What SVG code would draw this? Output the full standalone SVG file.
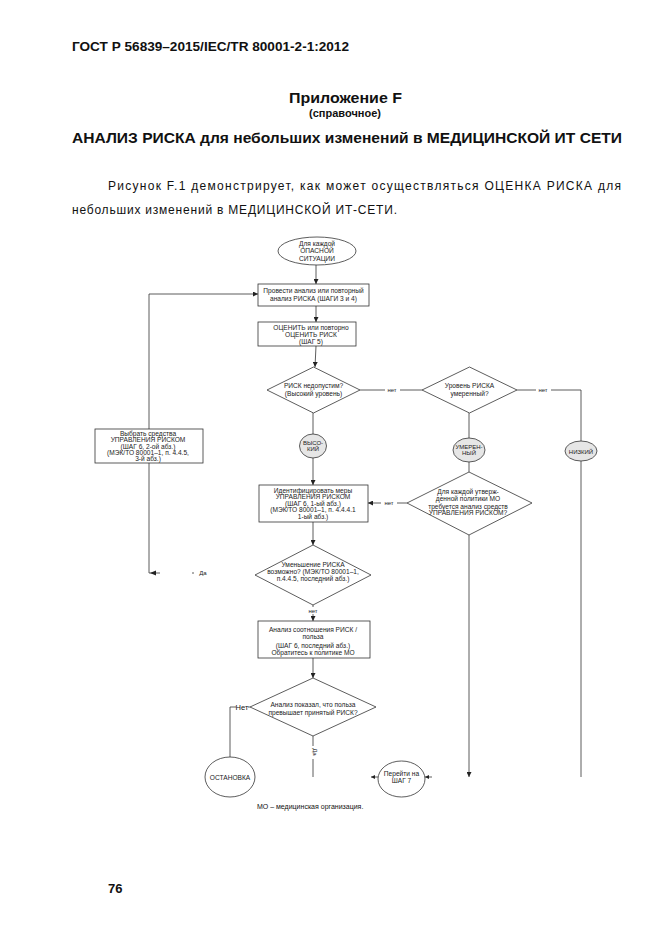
<svg xmlns="http://www.w3.org/2000/svg" width="662" height="936" viewBox="0 0 662 936">
<style>
.pg{font-family:"Liberation Sans",Arial,sans-serif;fill:#111}
.b{font-weight:bold}
.t{font-family:"Liberation Sans",Arial,sans-serif;font-size:6.6px;fill:#222;text-anchor:middle}
.s{font-family:"Liberation Sans",Arial,sans-serif;font-size:6px;fill:#222;text-anchor:middle}
.shape{fill:#fff;stroke:#333;stroke-width:0.8}
.grey{fill:#e6e6e6;stroke:#333;stroke-width:0.8}
.ln{fill:none;stroke:#333;stroke-width:0.8}
</style>
<defs>
<marker id="ah" viewBox="0 0 10 10" refX="10" refY="5" markerWidth="5" markerHeight="5" markerUnits="userSpaceOnUse" orient="auto">
<path d="M0,0 L10,5 L0,10 z" fill="#222"/>
</marker>
</defs>
<rect width="662" height="936" fill="#fff"/>

<g id="page-text">
<text class="pg b" x="72" y="51" font-size="12" textLength="277" lengthAdjust="spacingAndGlyphs">ГОСТ Р 56839–2015/IEC/TR 80001-2-1:2012</text>
<text class="pg" x="345.5" y="103" font-size="15" text-anchor="middle" font-weight="bold" textLength="113" lengthAdjust="spacingAndGlyphs">Приложение F</text>
<text class="pg b" x="345" y="117" font-size="11" text-anchor="middle">(справочное)</text>
<text class="pg b" x="72" y="143" font-size="15" textLength="550" lengthAdjust="spacingAndGlyphs">АНАЛИЗ РИСКА для небольших изменений в МЕДИЦИНСКОЙ ИТ СЕТИ</text>
<text class="pg" x="108" y="190" font-size="12" textLength="513" lengthAdjust="spacing">Рисунок F.1 демонстрирует, как может осуществляться ОЦЕНКА РИСКА для</text>
<text class="pg" x="72" y="214" font-size="12" textLength="325" lengthAdjust="spacing">небольших изменений в МЕДИЦИНСКОЙ ИТ-СЕТИ.</text>
<text class="pg b" x="108" y="893" font-size="13">76</text>
</g>

<g id="connectors">
<line class="ln" x1="316" y1="265" x2="316" y2="284" marker-end="url(#ah)"/>
<line class="ln" x1="316" y1="306" x2="316" y2="322" marker-end="url(#ah)"/>
<line class="ln" x1="316" y1="346" x2="315" y2="367" marker-end="url(#ah)"/>
<line class="ln" x1="360" y1="390" x2="385" y2="390"/>
<line class="ln" x1="400" y1="390" x2="422" y2="390"/>
<line class="ln" x1="517" y1="390" x2="536" y2="390"/>
<polyline class="ln" points="551,390 581,390 581,441"/>
<line class="ln" x1="581" y1="461" x2="581" y2="777"/>
<line class="ln" x1="313" y1="413" x2="313" y2="434"/>
<line class="ln" x1="313" y1="458" x2="313" y2="485" marker-end="url(#ah)"/>
<line class="ln" x1="469" y1="413" x2="469" y2="438"/>
<line class="ln" x1="469" y1="462" x2="469" y2="472"/>
<line class="ln" x1="407" y1="503" x2="397" y2="503"/>
<line class="ln" x1="381" y1="503" x2="368" y2="503" marker-end="url(#ah)"/>
<line class="ln" x1="469" y1="535" x2="469" y2="777" marker-end="url(#ah)"/>
<line class="ln" x1="313" y1="522" x2="313" y2="545" marker-end="url(#ah)"/>
<line class="ln" x1="313" y1="605" x2="313" y2="607"/>
<line class="ln" x1="313" y1="614" x2="313" y2="621" marker-end="url(#ah)"/>
<line class="ln" x1="313" y1="658" x2="313" y2="678" marker-end="url(#ah)"/>
<line class="ln" x1="250" y1="707" x2="248" y2="707"/>
<polyline class="ln" points="236,707 230,707 230,757"/>
<line class="ln" x1="313" y1="736" x2="313" y2="746"/>
<line class="ln" x1="313" y1="759" x2="313" y2="777"/>
<polyline class="ln" points="149,429 149,294 258,294" marker-end="url(#ah)"/>
<polyline class="ln" points="149,463 149,573 160,573"/>
<path d="M150,573 L156,570.5 L156,575.5 z" fill="#222"/>
<line class="ln" x1="192" y1="573" x2="194" y2="573"/>
<line class="ln" x1="371" y1="777" x2="378" y2="777"/>
<path d="M371,777 L375,775 L375,779 z" fill="#222"/>
<line class="ln" x1="425" y1="777" x2="432" y2="777"/>
<path d="M425,777 L429,775 L429,779 z" fill="#222"/>
<text class="s" x="392" y="392">нет</text>
<text class="s" x="543" y="392">нет</text>
<text class="s" x="389" y="505">нет</text>
<text class="s" x="313" y="613">нет</text>
<text class="pg" x="242" y="710" font-size="7.5" text-anchor="middle" fill="#222">Нет</text>
<text class="s" x="313" y="752" transform="rotate(90 313 752)">Да</text>
<text class="s" x="203" y="575">Да</text>
</g>

<g id="start">
<ellipse class="shape" cx="317" cy="251" rx="39" ry="14"/>
<text class="t" x="317" y="246">Для каждой</text>
<text class="t" x="317" y="253">ОПАСНОЙ</text>
<text class="t" x="317" y="261">СИТУАЦИИ</text>
</g>

<g id="box-analyze">
<rect class="shape" x="258" y="284" width="111" height="22"/>
<text class="t" x="313.5" y="292.5">Провести анализ или повторный</text>
<text class="t" x="313.5" y="300.5">анализ РИСКА (ШАГИ 3 и 4)</text>
</g>

<g id="box-evaluate">
<rect class="shape" x="258" y="322" width="98" height="24"/>
<text class="t" x="311" y="329.5">ОЦЕНИТЬ или повторно</text>
<text class="t" x="311" y="336.5">ОЦЕНИТЬ РИСК</text>
<text class="t" x="311" y="343.5">(ШАГ 5)</text>
</g>

<g id="dec-unacceptable">
<polygon class="shape" points="313.5,367 360,390 313.5,413 267,390"/>
<text class="t" x="313.5" y="388">РИСК недопустим?</text>
<text class="t" x="313.5" y="395.5">(Высокий уровень)</text>
</g>

<g id="dec-moderate">
<polygon class="shape" points="469.5,367 517,390 469.5,413 422,390"/>
<text class="t" x="469.5" y="388">Уровень РИСКА</text>
<text class="t" x="469.5" y="395.5">умеренный?</text>
</g>

<g id="high">
<ellipse class="grey" cx="313" cy="446" rx="13.5" ry="12"/>
<text class="s" x="313" y="445" font-size="5.5">ВЫСО-</text>
<text class="s" x="313" y="451" font-size="5.5">КИЙ</text>
</g>

<g id="moderate">
<ellipse class="grey" cx="469" cy="450" rx="16" ry="12"/>
<text class="s" x="469" y="449" font-size="5.2">УМЕРЕН-</text>
<text class="s" x="469" y="455" font-size="5.2">НЫЙ</text>
</g>

<g id="low">
<ellipse class="grey" cx="581" cy="451" rx="16" ry="10"/>
<text class="s" x="581" y="453.5" font-size="6">НИЗКИЙ</text>
</g>

<g id="box-select">
<rect class="shape" x="95" y="429" width="108" height="34"/>
<text class="t" x="148" y="436">Выбрать средства</text>
<text class="t" x="148" y="442">УПРАВЛЕНИЯ РИСКОМ</text>
<text class="t" x="148" y="448.5">(ШАГ 6, 2-ой абз.)</text>
<text class="t" x="148" y="455">(МЭК/ТО 80001–1, п. 4.4.5,</text>
<text class="t" x="148" y="461">3-й абз.)</text>
</g>

<g id="box-identify">
<rect class="shape" x="259" y="485" width="109" height="37"/>
<text class="t" x="313" y="493">Идентифицировать меры</text>
<text class="t" x="313" y="499">УПРАВЛЕНИЯ РИСКОМ</text>
<text class="t" x="313" y="505.5">(ШАГ 6, 1-ый абз.)</text>
<text class="t" x="313" y="512">(МЭК/ТО 80001–1, п. 4.4.4.1</text>
<text class="t" x="313" y="518.5">1-ый абз.)</text>
</g>

<g id="dec-policy">
<polygon class="shape" points="469,472 532,503 469,535 407,503"/>
<text class="t" x="468" y="494">Для каждой утверж-</text>
<text class="t" x="468" y="501">денной политики МО</text>
<text class="t" x="468" y="508.5">требуется анализ средств</text>
<text class="t" x="468" y="515">УПРАВЛЕНИЯ РИСКОМ?</text>
</g>

<g id="dec-reduce">
<polygon class="shape" points="313,545 371,575 313,605 255,575"/>
<text class="t" x="313" y="567">Уменьшение РИСКА</text>
<text class="t" x="313" y="574">возможно? (МЭК/ТО 80001–1,</text>
<text class="t" x="313" y="581">п.4.4.5, последний абз.)</text>
</g>

<g id="box-benefit">
<rect class="shape" x="258" y="621" width="112" height="37"/>
<text class="t" x="313" y="632">Анализ соотношения РИСК /</text>
<text class="t" x="313" y="639">польза</text>
<text class="t" x="313" y="648">(ШАГ 6, последний абз.)</text>
<text class="t" x="313" y="654.5">Обратитесь к политике МО</text>
</g>

<g id="dec-benefit">
<polygon class="shape" points="313,678 376,707 313,736 250,707"/>
<text class="t" x="313" y="707">Анализ показал, что польза</text>
<text class="t" x="313" y="715">превышает принятый РИСК?</text>
</g>

<g id="stop">
<ellipse class="shape" cx="230" cy="777" rx="25" ry="20"/>
<text class="t" x="230" y="779.5">ОСТАНОВКА</text>
</g>

<g id="step7">
<ellipse class="shape" cx="401.5" cy="779" rx="23.5" ry="18"/>
<text class="t" x="401.5" y="776">Перейти на</text>
<text class="t" x="401.5" y="783">ШАГ 7</text>
</g>

<g id="footnote">
<text class="pg" x="257" y="809" font-size="7" fill="#222">МО – медицинская организация.</text>
</g>
</svg>
